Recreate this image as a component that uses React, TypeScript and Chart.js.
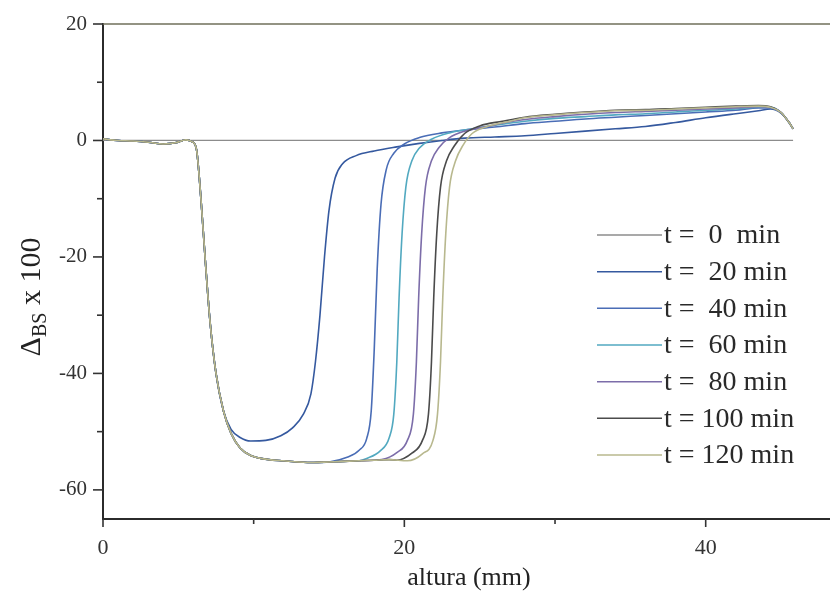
import React, { useEffect, useRef } from "react";
import { Chart, registerables } from "chart.js";

Chart.register(...registerables);

type P = [number, number];

const LEGEND_LABELS = ["t =  0  min", "t =  20 min", "t =  40 min", "t =  60 min", "t =  80 min", "t = 100 min", "t = 120 min"];
const COLORS = ["#8c8c8c", "#35599f", "#4a6db6", "#52a9c0", "#7c6da9", "#4b4b4b", "#b8b88e"];

const X_MIN = 0;
const X_MAX = 48.25;
const Y_MIN = -65;
const Y_MAX = 20;
const X_LABELS = [0, 20, 40];
const Y_LABELS = [20, 0, -20, -40, -60];

const T0: P[] = [[0, 0], [45.8, 0]];

const START: P[] = [
  [0, 0.3], [0.5, 0.1], [1, 0], [2, -0.1], [3, -0.3], [4, -0.6], [4.8, -0.4], [5.5, 0.1],
  [5.9, -0.2], [6.2, -1.5], [6.5, -10], [6.8, -21], [7.1, -31], [7.5, -40], [8.0, -46.5],
];

const FLOOR: P[] = [
  [8.5, -50.3], [9.1, -52.8], [9.8, -54.1], [11, -54.8], [12, -55.0], [13, -55.2], [14, -55.3],
  [15, -55.2], [16, -55.1], [17, -55.0], [18, -54.9], [19, -54.8], [20, -54.8],
];

const T20_TAIL: P[] = [
  [8.5, -49.6], [9.1, -51.0], [9.8, -51.6], [10.8, -51.5], [11.8, -50.7], [12.6, -49.3], [13.3, -47],
  [13.8, -43.5], [14.1, -38], [14.4, -30], [14.7, -20], [15.0, -12], [15.4, -6.5], [15.9, -4],
  [16.8, -2.6], [18, -1.8], [19.5, -1.1], [21, -0.5], [22.5, 0], [24, 0.4], [26, 0.6], [28, 0.8],
  [30, 1.2], [32, 1.6], [34, 2.0], [36, 2.4], [38, 3.1], [40, 3.9], [42, 4.6], [43.5, 5.1],
  [44.3, 5.4], [45, 4.7], [45.5, 3.2], [45.8, 2.0],
];

const T40_TAIL: P[] = [
  [16.2, -54.4], [17, -53.2], [17.5, -51.2], [17.8, -46.5], [18.0, -36], [18.2, -22], [18.45, -11],
  [18.8, -5], [19.3, -2.2], [20, -0.6], [21, 0.5], [22.5, 1.3], [24, 1.8], [26, 2.3], [28, 2.9],
  [30, 3.3], [32, 3.7], [34, 4.0], [36, 4.3], [38, 4.6], [40, 4.9], [42, 5.2], [43.5, 5.6],
  [44.3, 5.6], [45, 4.8], [45.5, 3.2], [45.8, 2.0],
];

const T60_TAIL: P[] = [
  [17.5, -54.6], [18.4, -53.3], [19.0, -51], [19.3, -47], [19.5, -38], [19.65, -27], [19.85, -16],
  [20.1, -8], [20.5, -3.5], [21, -1.3], [21.8, 0.2], [23, 1.3], [24.5, 2.0], [26, 2.6], [28, 3.3],
  [30, 3.8], [32, 4.1], [34, 4.4], [36, 4.6], [38, 4.9], [40, 5.2], [42, 5.4], [43.5, 5.7],
  [44.3, 5.7], [45, 4.8], [45.5, 3.2], [45.8, 2.0],
];

const T80_TAIL: P[] = [
  [18.5, -54.8], [19.5, -53.6], [20.2, -51.5], [20.6, -47], [20.8, -38], [20.95, -27], [21.15, -16],
  [21.4, -8], [21.8, -3.5], [22.3, -1.2], [23, 0.5], [24, 1.6], [25.5, 2.4], [27, 3.2], [28, 3.6],
  [30, 4.1], [32, 4.5], [34, 4.8], [36, 5.0], [38, 5.2], [40, 5.4], [42, 5.6], [43.5, 5.8],
  [44.3, 5.7], [45, 4.8], [45.5, 3.2], [45.8, 2.0],
];

const T100_TAIL: P[] = [
  [19.5, -54.9], [20.5, -53.7], [21.2, -51.5], [21.6, -47], [21.8, -38], [21.95, -27], [22.15, -16],
  [22.4, -8], [22.8, -3.5], [23.3, -1], [24, 1.2], [25, 2.5], [26.5, 3.3], [28, 4.0], [30, 4.5],
  [32, 4.9], [34, 5.2], [36, 5.3], [38, 5.5], [40, 5.7], [42, 5.9], [43.5, 6.0], [44.3, 5.8],
  [45, 4.8], [45.5, 3.2], [45.8, 2.0],
];

const T120_TAIL: P[] = [
  [20.2, -55.0], [21.2, -53.8], [21.9, -51.5], [22.2, -47], [22.4, -38], [22.55, -27], [22.75, -16],
  [23.0, -8], [23.4, -3.5], [23.9, -0.8], [24.5, 1.2], [25.5, 2.4], [27, 3.3], [28, 3.9], [30, 4.4],
  [32, 4.8], [34, 5.1], [36, 5.2], [38, 5.4], [40, 5.6], [42, 5.8], [43.5, 5.9], [44.3, 5.7],
  [45, 4.8], [45.5, 3.2], [45.8, 2.0],
];

function build(tail: P[], withFloor: boolean): P[] {
  const first = tail[0][0];
  const floor = withFloor ? FLOOR.filter((p) => p[0] < first - 0.3) : [];
  return [...START, ...floor, ...tail];
}

const SERIES: P[][] = [
  T0,
  build(T20_TAIL, false),
  build(T40_TAIL, true),
  build(T60_TAIL, true),
  build(T80_TAIL, true),
  build(T100_TAIL, true),
  build(T120_TAIL, true),
];

const FONT = "'Liberation Serif', 'Times New Roman', serif";

const decorPlugin = {
  id: "decor",
  afterDraw(chart: any) {
    const ctx = chart.ctx as CanvasRenderingContext2D;
    const ca = chart.chartArea;
    const xs = chart.scales.x;
    const ys = chart.scales.y;
    ctx.save();
    // top frame line
    ctx.strokeStyle = "#6f6f5a";
    ctx.lineWidth = 1.5;
    ctx.beginPath();
    ctx.moveTo(ca.left, ca.top);
    ctx.lineTo(ca.right, ca.top);
    ctx.stroke();
    // tick marks
    ctx.strokeStyle = "#333";
    ctx.lineWidth = 1.6;
    for (let v = 0; v <= 40; v += 10) {
      const px = xs.getPixelForValue(v);
      const len = v % 20 === 0 ? 8 : 5;
      ctx.beginPath();
      ctx.moveTo(px, ca.bottom);
      ctx.lineTo(px, ca.bottom + len);
      ctx.stroke();
    }
    for (let v = -60; v <= 20; v += 10) {
      const py = ys.getPixelForValue(v);
      const len = v % 20 === 0 ? 10 : 6;
      ctx.beginPath();
      ctx.moveTo(ca.left, py);
      ctx.lineTo(ca.left - len, py);
      ctx.stroke();
    }
    // x title
    ctx.fillStyle = "#222";
    ctx.font = `26px ${FONT}`;
    ctx.textAlign = "center";
    ctx.textBaseline = "middle";
    ctx.fillText("altura (mm)", 469, 578);
    // y title with subscript
    ctx.save();
    ctx.translate(30, 297);
    ctx.rotate(-Math.PI / 2);
    const big = `30px ${FONT}`;
    const small = `20px ${FONT}`;
    ctx.textAlign = "left";
    ctx.textBaseline = "alphabetic";
    ctx.font = big;
    const wD = ctx.measureText("\u0394").width;
    const wRest = ctx.measureText(" x 100").width;
    ctx.font = small;
    const wBS = ctx.measureText("BS").width;
    let x0 = -(wD + wBS + wRest) / 2;
    const base = 10;
    ctx.font = big;
    ctx.fillText("\u0394", x0, base);
    x0 += wD;
    ctx.font = small;
    ctx.fillText("BS", x0, base + 6);
    x0 += wBS;
    ctx.font = big;
    ctx.fillText(" x 100", x0, base);
    ctx.restore();
    // legend
    ctx.font = `28px ${FONT}`;
    ctx.textAlign = "left";
    ctx.textBaseline = "middle";
    LEGEND_LABELS.forEach((lab, i) => {
      const y = 235 + i * 36.67;
      ctx.strokeStyle = COLORS[i];
      ctx.lineWidth = 1.5;
      ctx.beginPath();
      ctx.moveTo(597, y);
      ctx.lineTo(662, y);
      ctx.stroke();
      ctx.fillStyle = "#2a2a2a";
      ctx.fillText(lab, 664, y + 1);
    });
    ctx.restore();
  },
};

export default function App() {
  const ref = useRef<HTMLCanvasElement | null>(null);
  useEffect(() => {
    if (!ref.current) return;
    const datasets = SERIES.map((pts, i) => ({
      label: LEGEND_LABELS[i],
      data: pts.map(([x, y]) => ({ x, y })),
      borderColor: COLORS[i],
      backgroundColor: COLORS[i],
      borderWidth: i === 0 ? 1.2 : 1.6,
      pointRadius: 0,
      cubicInterpolationMode: "monotone" as const,
      fill: false,
      order: i === 0 ? 10 : 7 - i,
    }));
    const chart = new Chart(ref.current, {
      type: "line",
      data: { datasets },
      options: {
        responsive: false,
        animation: false,
        devicePixelRatio: 1,
        layout: { padding: { top: 24, right: 0, left: 0, bottom: 0 } },
        plugins: { legend: { display: false }, tooltip: { enabled: false }, title: { display: false } },
        scales: {
          x: {
            type: "linear",
            min: X_MIN,
            max: X_MAX,
            ticks: {
              stepSize: 10,
              includeBounds: false,
              autoSkip: false,
              maxRotation: 0,
              padding: 8,
              color: "#333",
              font: { family: FONT, size: 22 },
              callback: (v: any) => (X_LABELS.includes(Number(v)) ? String(v) : ""),
            },
            grid: { display: true, drawOnChartArea: false, drawTicks: true, tickLength: 8, tickColor: "rgba(0,0,0,0)" },
            border: { display: true, color: "#2b2b2b", width: 2 },
            afterFit: (s: any) => { s.height = 83; },
          },
          y: {
            type: "linear",
            min: Y_MIN,
            max: Y_MAX,
            ticks: {
              stepSize: 10,
              includeBounds: false,
              autoSkip: false,
              padding: 6,
              color: "#333",
              font: { family: FONT, size: 21 },
              callback: (v: any) => (Y_LABELS.includes(Number(v)) ? String(v) : ""),
            },
            grid: { display: true, drawOnChartArea: false, drawTicks: true, tickLength: 10, tickColor: "rgba(0,0,0,0)" },
            border: { display: true, color: "#2b2b2b", width: 2 },
            afterFit: (s: any) => { s.width = 103; },
          },
        },
      },
      plugins: [decorPlugin],
    });
    return () => chart.destroy();
  }, []);
  return (
    <div style={{ position: "fixed", left: 0, top: 0, width: 830, height: 602, background: "#fff" }}>
      <canvas ref={ref} width={830} height={602} style={{ width: 830, height: 602, display: "block" }} />
    </div>
  );
}
